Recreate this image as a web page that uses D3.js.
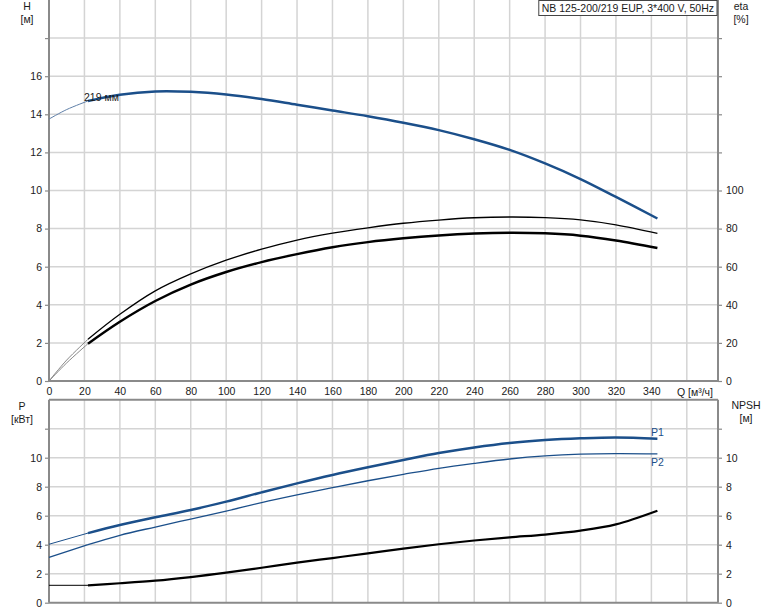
<!DOCTYPE html>
<html><head><meta charset="utf-8">
<script src="https://cdn.jsdelivr.net/npm/d3@7/dist/d3.min.js"></script>
<style>
body{margin:0;background:#fff;}
svg{display:block;font-family:"Liberation Sans",Arial,sans-serif;}
</style></head><body>
<svg id="c" width="774" height="611"></svg>
<script>
// ---- data ----
const title = "NB 125-200/219 EUP, 3*400 V, 50Hz";
const xTicks = [0,20,40,60,80,100,120,140,160,180,200,220,240,260,280,300,320,340];
const hTicks = [0,2,4,6,8,10,12,14,16];
const etaTicks = [0,20,40,60,80,100];
const pTicks = [0,2,4,6,8,10];
const npshTicks = [0,2,4,6,8,10];

const qH   = [0,10,22,40,60,80,100,120,140,160,180,200,220,240,260,280,300,320,343.4];
const hVal = [13.75,14.25,14.7,15.03,15.2,15.18,15.04,14.8,14.5,14.2,13.9,13.56,13.17,12.69,12.13,11.42,10.6,9.66,8.53];

const qEta  = [0,10,22,40,60,80,100,120,140,160,180,200,220,240,260,280,300,320,343.4];
const eta1  = [0,11,21.9,35,47.3,56.2,63.4,69.2,74,77.6,80.4,82.8,84.5,85.7,86.1,85.8,84.6,82,77.5];
const eta2  = [0,9.5,19.6,31.1,42,50.6,57.2,62.4,66.6,70.2,72.9,74.9,76.4,77.4,77.8,77.5,76.3,73.8,69.8];

const qP   = [0,22,40,60,80,100,120,140,160,180,200,220,240,260,280,300,320,343.4];
const p1   = [4.03,4.8,5.36,5.89,6.39,6.97,7.61,8.23,8.81,9.34,9.84,10.32,10.71,11.02,11.22,11.34,11.4,11.31];
const p2   = [3.13,4.0,4.65,5.22,5.77,6.32,6.9,7.43,7.93,8.41,8.85,9.27,9.61,9.91,10.12,10.24,10.28,10.26];
const npsh = [1.2,1.2,1.34,1.52,1.77,2.07,2.41,2.76,3.08,3.4,3.73,4.03,4.29,4.51,4.7,4.97,5.4,6.34];
const qStart = 22;

// ---- layout ----
const svg = d3.select("#c");
const L = 49, R = 718;
const x = d3.scaleLinear().domain([0,377.6]).range([L,R]);
const yH = d3.scaleLinear().domain([0,20]).range([381,0]);
const yEta = d3.scaleLinear().domain([0,200]).range([381,0]);
const yP = d3.scaleLinear().domain([0,14]).range([602.7,399.7]);
const gridC = "#d4d4d4", axisC = "#8a8a8a", txtC = "#1a1a1a";
const blue = "#1b4f8a";

function grid(ys, yDomTicks, top, bottom){
  const g = svg.append("g");
  const vx = d3.range(20,377,20);
  g.selectAll("line.v").data(vx).enter().append("line")
    .attr("x1",d=>x(d)).attr("x2",d=>x(d)).attr("y1",top).attr("y2",bottom)
    .attr("stroke",gridC).attr("stroke-width",1.5);
  g.selectAll("line.h").data(yDomTicks).enter().append("line")
    .attr("x1",L).attr("x2",R).attr("y1",d=>ys(d)).attr("y2",d=>ys(d))
    .attr("stroke",gridC).attr("stroke-width",1.5);
}
grid(yH, d3.range(2,20,2), 0, 381);
grid(yP, d3.range(2,14,2), 399.7, 602.7);

function styleAxis(g){
  g.select(".domain").remove();
  g.selectAll(".tick line").attr("stroke",axisC).attr("stroke-width",1.2);
  g.selectAll(".tick text").attr("fill",txtC).attr("font-size","10.5px").attr("font-family","'Liberation Sans',Arial,sans-serif");
}
svg.append("g").attr("transform",`translate(${L},0)`)
  .call(d3.axisLeft(yH).tickValues(d3.range(0,20,2)).tickSize(4).tickPadding(3)
    .tickFormat(d=>hTicks.includes(d)?d:"")).call(styleAxis);
svg.append("g").attr("transform",`translate(${R},0)`)
  .call(d3.axisRight(yEta).tickValues(d3.range(0,200,20)).tickSize(4).tickPadding(4)
    .tickFormat(d=>etaTicks.includes(d)?d:"")).call(styleAxis);
svg.append("g").attr("transform",`translate(0,381)`)
  .call(d3.axisBottom(x).tickValues(xTicks).tickSize(0).tickPadding(7)).call(styleAxis);
svg.append("g").attr("transform",`translate(${L},0)`)
  .call(d3.axisLeft(yP).tickValues(d3.range(0,14,2)).tickSize(4).tickPadding(3)
    .tickFormat(d=>pTicks.includes(d)?d:"")).call(styleAxis);
svg.append("g").attr("transform",`translate(${R},0)`)
  .call(d3.axisRight(yP).tickValues(d3.range(0,14,2)).tickSize(4).tickPadding(4)
    .tickFormat(d=>npshTicks.includes(d)?d:"")).call(styleAxis);

const frame = [[L,0,L,381],[R,0,R,381],[L,381,R,381],[L,399.7,R,399.7],[L,399.7,L,602.7],[R,399.7,R,602.7],[L,602.7,R,602.7]];
svg.selectAll("line.f").data(frame).enter().append("line")
  .attr("x1",d=>d[0]).attr("y1",d=>d[1]).attr("x2",d=>d[2]).attr("y2",d=>d[3])
  .attr("stroke",axisC).attr("stroke-width",2);

function draw(qs, vs, ys, color, w, thinColor, thinW){
  const pts = qs.map((q,i)=>[q,vs[i]]);
  const line = d3.line().x(d=>x(d[0])).y(d=>ys(d[1])).curve(d3.curveCatmullRom.alpha(0.5));
  svg.append("path").attr("d",line(pts.filter(p=>p[0]<=qStart)))
    .attr("fill","none").attr("stroke",thinColor).attr("stroke-width",thinW);
  svg.append("path").attr("d",line(pts.filter(p=>p[0]>=qStart)))
    .attr("fill","none").attr("stroke",color).attr("stroke-width",w).attr("stroke-linecap","butt");
}
draw(qH, hVal, yH, blue, 2.5, "#5f7fa8", 1);
draw(qEta, eta1, yEta, "#000", 1.3, "#888", 1);
draw(qEta, eta2, yEta, "#000", 2.5, "#888", 1);
draw(qP, p1, yP, blue, 2.5, blue, 1);
draw(qP, p2, yP, blue, 1.3, blue, 1.3);
draw(qP, npsh, yP, "#000", 2.2, "#000", 1);

function t(xp, yp, s, anchor, size, col){
  svg.append("text").attr("x",xp).attr("y",yp).attr("text-anchor",anchor||"middle")
    .attr("font-size",(size||10.5)+"px").attr("fill",col||txtC).text(s);
}
t(27,10,"H"); t(27,23,"[м]");
t(741,10,"eta"); t(741,23,"[%]");
t(22,410,"P"); t(22,423,"[кВт]");
t(746,409,"NPSH"); t(746,422,"[м]");
t(695,396,"Q [м³/ч]");
t(84,101,"219 мм","start");
t(651,436,"P1","start",10.5,blue);
t(651,466,"P2","start",10.5,blue);

const tb = svg.append("g");
const tt = tb.append("text").attr("x",714).attr("y",11.5).attr("text-anchor","end")
  .attr("font-size","10.5px").attr("fill",txtC).text(title);
const bb = tt.node().getBBox();
tb.insert("rect","text").attr("x",bb.x-3).attr("y",0.5).attr("width",R-(bb.x-3)-1).attr("height",15)
  .attr("fill","#fff").attr("stroke","#444").attr("stroke-width",1);
</script>
</body></html>
